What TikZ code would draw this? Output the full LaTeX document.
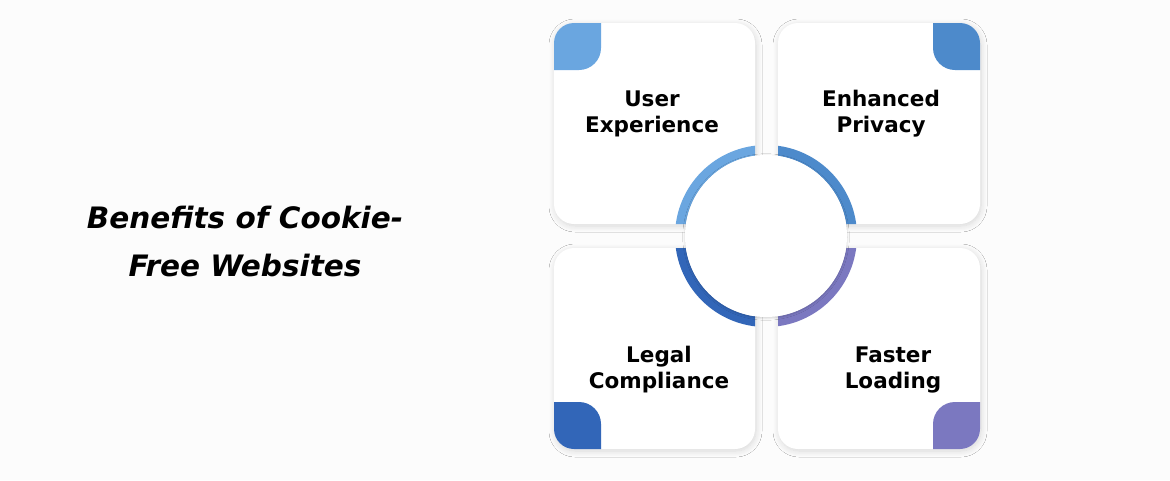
\documentclass[tikz,border=0pt]{standalone}
\usepackage{fontspec}
\setmainfont{DejaVu Sans}
\usetikzlibrary{shadows.blur}
\definecolor{bg}{HTML}{FCFCFC}
\definecolor{cA}{HTML}{6AA6E0}
\definecolor{cB}{HTML}{4D8ACB}
\definecolor{cC}{HTML}{3266B8}
\definecolor{cD}{HTML}{7B78C0}
\tikzset{
  card/.style={fill=white,rounded corners=20pt,blur shadow={shadow blur steps=10,shadow blur radius=6pt,shadow xshift=1pt,shadow yshift=-2pt,shadow opacity=15}},
  lab/.style={font=\bfseries\fontsize{21.5}{26}\selectfont,align=center,text=black},
}
\begin{document}
\begin{tikzpicture}[x=1pt,y=-1pt]
\useasboundingbox[fill=bg] (0,0) rectangle (1170,480);
\node[font=\bfseries\itshape\fontsize{29.5}{48}\selectfont,align=center] (title) at (245,241) {Benefits of Cookie-\\Free Websites};
% cards
\path[card] (554,23) rectangle (755,224);
\path[card] (778,23) rectangle (980,224);
\path[card] (554,248) rectangle (755,449);
\path[card] (778,248) rectangle (980,449);
% accents and ring
\begin{scope}\clip[rounded corners=20pt] (554,23) rectangle (755,224);
\fill[cA,rounded corners=22pt] (500,-30) -- (601,-30) -- (601,70) -- (500,70) -- cycle;
\draw[cA,line width=10pt] (766,236) circle[radius=86];\end{scope}
\begin{scope}\clip[rounded corners=20pt] (778,23) rectangle (980,224);
\fill[cB,rounded corners=22pt] (1030,-30) -- (933,-30) -- (933,70) -- (1030,70) -- cycle;
\draw[cB,line width=10pt] (766,236) circle[radius=86];\end{scope}
\begin{scope}\clip[rounded corners=20pt] (554,248) rectangle (755,449);
\fill[cC,rounded corners=22pt] (500,500) -- (601,500) -- (601,402) -- (500,402) -- cycle;
\draw[cC,line width=10pt] (766,236) circle[radius=86];\end{scope}
\begin{scope}\clip[rounded corners=20pt] (778,248) rectangle (980,449);
\fill[cD,rounded corners=22pt] (1030,500) -- (933,500) -- (933,402) -- (1030,402) -- cycle;
\draw[cD,line width=10pt] (766,236) circle[radius=86];\end{scope}
\node[circle,fill=white,minimum size=162pt,inner sep=0pt,blur shadow={shadow blur steps=8,shadow xshift=0pt,shadow yshift=-1pt,shadow opacity=18}] (hub) at (766,236) {};
% labels
\node[lab] (ux) at (652,114) {User\\Experience};
\node[lab] (pr) at (881,114) {Enhanced\\Privacy};
\node[lab] (lc) at (659,370) {Legal\\Compliance};
\node[lab] (fl) at (893,370) {Faster\\Loading};
\end{tikzpicture}
\end{document}
